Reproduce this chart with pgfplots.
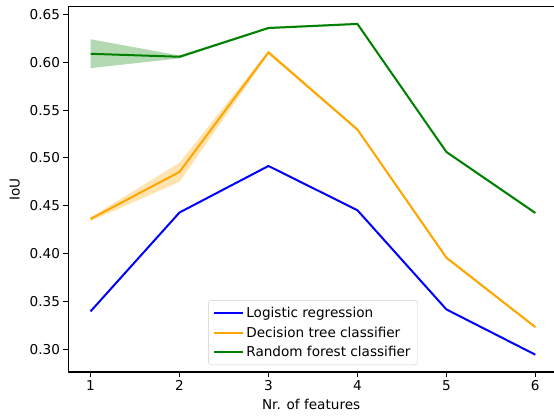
\documentclass[border=0pt]{standalone}
\usepackage{pgfplots}
\pgfplotsset{compat=1.18}
\usepackage{fontspec}
\setmainfont{DejaVu Sans}
\definecolor{mplblue}{rgb}{0,0,1}
\definecolor{mplorange}{rgb}{1,0.647,0}
\definecolor{mplgreen}{rgb}{0,0.502,0}
\begin{document}
\begin{tikzpicture}
\begin{axis}[
  scale only axis,
  width=485.7pt, height=365.3pt,
  xmin=0.75, xmax=6.21,
  ymin=0.2764, ymax=0.658,
  axis x line=box, axis y line=left,
  axis line style={-, line width=1.07pt, black},
  xtick={1,2,3,4,5,6},
  ytick={0.30,0.35,0.40,0.45,0.50,0.55,0.60,0.65},
  yticklabel style={/pgf/number format/.cd, fixed, fixed zerofill, precision=2},
  /pgf/number format/assume math mode=true,
  tick align=outside,
  major tick length=4.8pt,
  tick style={line width=1.07pt, black},
  xtick pos=bottom, ytick pos=left,
  ticklabel style={font=\fontsize{13.6}{16}\selectfont},
  xticklabel style={yshift=-0.5pt},
  label style={font=\fontsize{13.6}{16}\selectfont},
  xlabel={Nr. of features},
  ylabel={IoU},
  xlabel style={yshift=-1pt},
  ylabel style={yshift=3pt},
  legend style={
    at={(0.5037,0.019)}, anchor=south,
    draw=black!20, rounded corners=3pt, fill=white, fill opacity=0.8, text opacity=1,
    font=\fontsize{13.6}{16}\selectfont,
    inner xsep=5pt, inner ysep=5pt,
    row sep=3.5pt,
    nodes={inner sep=2pt},
  },
  legend cell align=left,
  legend image code/.code={\draw[#1, line width=2pt] (0pt,0pt) -- (29pt,0pt);},
]
% bands
\addplot[draw=none, fill=mplorange, fill opacity=0.3, forget plot] coordinates {
  (1,0.438) (2,0.495) (3,0.612) (4,0.531) (5,0.397) (6,0.324)
  (6,0.322) (5,0.394) (4,0.528) (3,0.608) (2,0.475) (1,0.434)} -- cycle;
\addplot[draw=none, fill=mplgreen, fill opacity=0.3, forget plot] coordinates {
  (1,0.624) (2,0.607) (3,0.637) (4,0.641) (5,0.507) (6,0.443)
  (6,0.441) (5,0.505) (4,0.639) (3,0.635) (2,0.604) (1,0.5938)} -- cycle;
% lines
\addplot[mplblue, line width=2pt] coordinates {
  (1,0.3397) (2,0.443) (3,0.4916) (4,0.4454) (5,0.3418) (6,0.2945)};
\addlegendentry{Logistic regression}
\addplot[mplorange, line width=2pt] coordinates {
  (1,0.4363) (2,0.4854) (3,0.6103) (4,0.5297) (5,0.3959) (6,0.3233)};
\addlegendentry{Decision tree classifier}
\addplot[mplgreen, line width=2pt] coordinates {
  (1,0.6088) (2,0.6057) (3,0.6357) (4,0.6400) (5,0.5063) (6,0.4426)};
\addlegendentry{Random forest classifier}
\end{axis}
\pgfresetboundingbox
\path[use as bounding box] ([xshift=-68.3pt,yshift=-45pt]current axis.south west) rectangle ++(554pt,417pt);
\end{tikzpicture}
\end{document}
